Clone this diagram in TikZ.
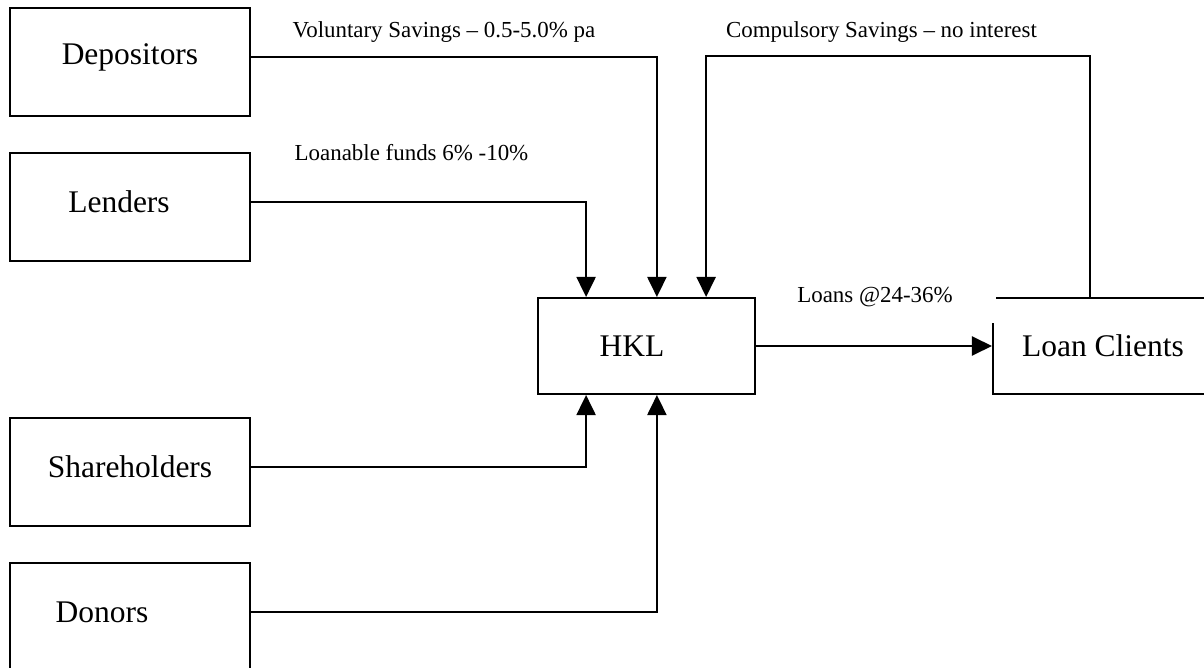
\documentclass[tikz,border=0pt]{standalone}
\usepackage{fontspec}
\setmainfont{Liberation Serif}
\usepackage{tikz}
\usetikzlibrary{arrows.meta,positioning}

\begin{document}
\begin{tikzpicture}[
  x=0.025cm, y=-0.025cm,
  box/.style={draw, line width=1.4pt, minimum width=6cm, minimum height=2.7cm,
              inner sep=0pt},
  boxtxt/.style={font=\fontsize{22.4}{26}\selectfont},
  flow/.style={line width=1.4pt, -{Triangle[length=5mm,width=4.75mm]}},
  lbl/.style={font=\fontsize{16.3}{19}\selectfont, inner sep=0pt}
]
  \useasboundingbox (0,0) rectangle (1204,668);

  \node[box, label={[boxtxt,yshift=1.25mm]center:Depositors}]               (dep)    at (130,62)  {};
  \node[box, label={[boxtxt,xshift=-2.75mm,yshift=1.25mm]center:Lenders}]   (lend)   at (130,207) {};
  \node[box, label={[boxtxt,yshift=1.25mm]center:Shareholders}]             (share)  at (130,472) {};
  \node[box, label={[boxtxt,xshift=-7mm,yshift=1.25mm]center:Donors}]       (donor)  at (130,617) {};
  \node[box, minimum width=5.425cm, minimum height=2.4cm,
        label={[boxtxt,xshift=-3.6mm]center:HKL}]                           (hkl)    at (646.5,346) {};
  \node[box, minimum width=6.5cm, minimum height=2.4cm,
        label={[boxtxt,xshift=-5mm]center:Loan Clients}]                    (client) at (1123,346)  {};
  % gap at the corner of the client box
  \fill[white] (990.5,296.5) rectangle (995.5,323);

  \node[lbl] (volLbl)  at (444,32)  {Voluntary Savings -- 0.5-5.0\% pa};
  \node[lbl] (compLbl) at (881.5,32) {Compulsory Savings -- no interest};
  \node[lbl] (lendLbl) at (411.5,153) {Loanable funds 6\% -10\%};
  \node[lbl] (loanLbl) at (875,297) {Loans @24-36\%};

  \draw[flow] ([yshift=1.25mm]dep.east)   -| ([xshift=2.6mm]hkl.north);
  \draw[flow] ([yshift=1.25mm]lend.east)  -| ([xshift=-15.1mm]hkl.north);
  \draw[flow] ([yshift=1.25mm]share.east) -| ([xshift=-15.1mm]hkl.south);
  \draw[flow] ([yshift=1.25mm]donor.east) -| ([xshift=2.6mm]hkl.south);
  \draw[flow] ([xshift=-8.25mm]client.north) -- ++(0,-241) -| ([xshift=14.9mm]hkl.north);
  \draw[flow] (hkl) -- (client);
\end{tikzpicture}
\end{document}
